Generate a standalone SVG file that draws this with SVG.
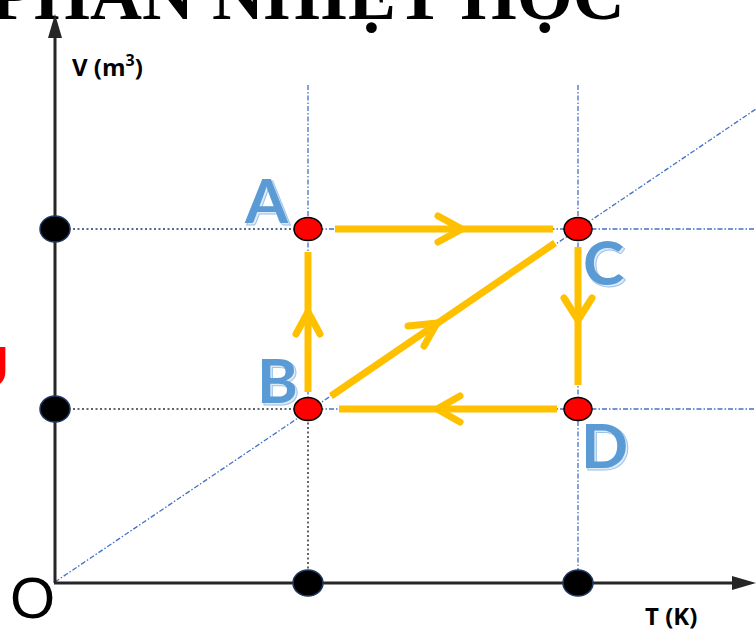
<svg xmlns="http://www.w3.org/2000/svg" width="756" height="633" viewBox="0 0 756 633">
<defs>
<style>
.axis{stroke:#262626;stroke-width:3;fill:none}
.bdash{stroke:#4472C4;stroke-width:1.3;stroke-dasharray:5 2 1.5 2;fill:none}
.ndash{stroke:#1F3864;stroke-width:1.5;stroke-dasharray:2 2.5;fill:none}
.kdot{stroke:#333;stroke-width:1.5;stroke-dasharray:2 2.5;fill:none}
.path{stroke:#FFC000;stroke-width:7;fill:none;stroke-linecap:butt}
.chev{stroke:#FFC000;stroke-width:7;fill:none;stroke-linecap:round;stroke-linejoin:round}
.bdot{fill:#000;stroke:#1F3864;stroke-width:1.5}
.rdot{fill:#FF0000;stroke:#000;stroke-width:1.5}
.lbl{font-family:Lato,"Liberation Sans",sans-serif;font-weight:bold;font-size:62px;fill:#5B9BD5}
.lblsh{font-family:Lato,"Liberation Sans",sans-serif;font-weight:bold;font-size:62px;fill:#DEEBF7;stroke:#9DC3E6;stroke-width:1}
.ax{font-family:"Open Sans","Liberation Sans",Arial,sans-serif;font-weight:bold;font-size:24px;fill:#000}
</style>
</defs>
<text x="-10" y="19" font-family="Liberation Serif,Times New Roman,serif" font-weight="bold" font-size="72" fill="#000">PHẦN NHIỆT HỌC</text>
<text x="9" y="387" text-anchor="end" font-family="Liberation Sans,Arial,sans-serif" font-weight="bold" font-size="58" fill="#FF0000">U</text>
<g id="guides">
<line class="bdash" x1="55" y1="582" x2="756" y2="109"/>
<line class="ndash" x1="55" y1="229" x2="308" y2="229"/>
<line class="bdash" x1="308" y1="229" x2="756" y2="229"/>
<line class="kdot" x1="55" y1="409" x2="308" y2="409"/>
<line class="bdash" x1="308" y1="409" x2="756" y2="409"/>
<line class="bdash" x1="308" y1="85" x2="308" y2="409"/>
<line class="kdot" x1="308" y1="409" x2="308" y2="582"/>
<line class="bdash" x1="578" y1="85" x2="578" y2="582"/>
</g>
<g id="axes">
<line class="axis" x1="55" y1="583" x2="55" y2="36"/>
<polygon points="55,14 48,38 62,38" fill="#262626"/>
<line class="axis" x1="54" y1="583" x2="734" y2="583"/>
<polygon points="756,583 732,576 732,590" fill="#262626"/>
<text class="ax" x="72" y="76">V (m<tspan font-size="16" dy="-10">3</tspan><tspan dy="10">)</tspan></text>
<text class="ax" x="645" y="625">T (K)</text>
<text x="10" y="618" font-family="Liberation Sans,Arial,sans-serif" font-size="58" fill="#000">O</text>
</g>
<g id="connectors">
<line class="path" x1="335" y1="229" x2="553" y2="229"/>
<polyline class="chev" points="438,216 462,229 438,242"/>
<line class="path" x1="578" y1="247" x2="578" y2="385"/>
<polyline class="chev" points="564,298 578,320 592,298"/>
<line class="path" x1="557" y1="409" x2="339" y2="409"/>
<polyline class="chev" points="460,396 437,409 460,422"/>
<line class="path" x1="308" y1="392" x2="308" y2="252"/>
<polyline class="chev" points="296,334 308,312 320,334"/>
<line class="path" x1="331" y1="396" x2="555" y2="243"/>
<polyline class="chev" points="408,326 437,323 424,346"/>
</g>
<g id="axis-points">
<ellipse class="bdot" cx="55" cy="229" rx="15" ry="13"/>
<ellipse class="bdot" cx="55" cy="409" rx="15" ry="13"/>
<ellipse class="bdot" cx="308" cy="583" rx="15" ry="13"/>
<ellipse class="bdot" cx="578" cy="583" rx="15" ry="13"/>
</g>
<g id="A"><ellipse class="rdot" cx="308" cy="229" rx="14" ry="11.5"/><text class="lblsh" x="247" y="225">A</text><text class="lbl" x="245" y="223">A</text></g>
<g id="B"><ellipse class="rdot" cx="308" cy="409" rx="14" ry="11.5"/><text class="lblsh" x="259" y="405">B</text><text class="lbl" x="257" y="403">B</text></g>
<g id="C"><ellipse class="rdot" cx="578" cy="229" rx="14" ry="11.5"/><text class="lblsh" x="585" y="287">C</text><text class="lbl" x="583" y="285">C</text></g>
<g id="D"><ellipse class="rdot" cx="578" cy="409" rx="14" ry="11.5"/><text class="lblsh" x="583" y="470">D</text><text class="lbl" x="581" y="468">D</text></g>
</svg>
